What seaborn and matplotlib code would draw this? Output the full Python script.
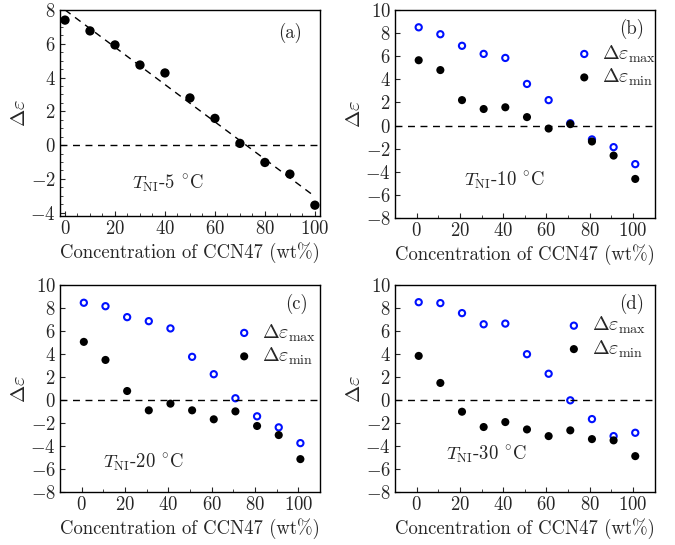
import numpy as np
import pandas as pd
import matplotlib
matplotlib.use("Agg")
import matplotlib.pyplot as plt
from matplotlib.ticker import MultipleLocator
import seaborn as sns

# data
conc_a = [0, 10, 20, 30, 40, 50, 60, 70, 80, 90, 100]
de_a = [7.40, 6.76, 5.93, 4.74, 4.27, 2.79, 1.58, 0.10, -1.03, -1.72, -3.56]

conc = [1, 11, 21, 31, 41, 51, 61, 71, 81, 91, 101]
max_10 = [8.5, 7.9, 6.9, 6.2, 5.85, 3.6, 2.2, 0.2, -1.2, -1.87, -3.34]
min_10 = [5.65, 4.8, 2.2, 1.43, 1.58, 0.73, -0.26, 0.12, -1.38, -2.6, -4.62]
max_20 = [8.45, 8.15, 7.2, 6.85, 6.22, 3.75, 2.24, 0.15, -1.42, -2.38, -3.75]
min_20 = [5.05, 3.48, 0.78, -0.9, -0.32, -0.9, -1.68, -0.99, -2.26, -3.05, -5.14]
max_30 = [8.5, 8.42, 7.55, 6.58, 6.64, 3.98, 2.28, -0.03, -1.66, -3.14, -2.85]
min_30 = [3.83, 1.48, -1.02, -2.35, -1.92, -2.56, -3.14, -2.64, -3.4, -3.51, -4.88]

sns.set_style("ticks")
plt.rcParams["font.family"] = ["cmr10", "DejaVu Serif"]
plt.rcParams["mathtext.fontset"] = "cm"
plt.rcParams["axes.formatter.use_mathtext"] = True
plt.rcParams["font.size"] = 13.5
plt.rcParams["xtick.direction"] = "in"
plt.rcParams["ytick.direction"] = "in"

BLUE = "#0010ff"
fig = plt.figure(figsize=(6.75, 5.45), dpi=100)
ax_a = fig.add_axes([0.0889, 0.6037, 0.385, 0.378])
ax_b = fig.add_axes([0.585, 0.600, 0.385, 0.3817])
ax_c = fig.add_axes([0.0889, 0.0972, 0.385, 0.380])
ax_d = fig.add_axes([0.585, 0.0972, 0.385, 0.380])

xlab = "Concentration of CCN47 (wt%)"
ylab = r"$\Delta\varepsilon$"

# (a)
df_a = pd.DataFrame({"c": conc_a, "de": de_a})
sns.regplot(data=df_a, x="c", y="de", ax=ax_a, scatter=False, ci=None,
            line_kws=dict(color="k", ls=(0, (5, 4)), lw=1.0))
sns.scatterplot(data=df_a, x="c", y="de", ax=ax_a, color="k", s=45,
                edgecolor="none")
ax_a.axhline(0, color="k", ls=(0, (5, 4)), lw=1.0)
ax_a.set_xlim(-2, 102)
ax_a.set_ylim(-4.2, 8)
ax_a.xaxis.set_major_locator(MultipleLocator(20))
ax_a.xaxis.set_minor_locator(MultipleLocator(5))
ax_a.yaxis.set_major_locator(MultipleLocator(2))
ax_a.yaxis.set_minor_locator(MultipleLocator(0.5))
ax_a.text(0.885, 0.89, "(a)", transform=ax_a.transAxes, ha="center", va="center")
ax_a.text(0.415, 0.16, r"$T_{\rm NI}$-5 $^{\circ}$C", transform=ax_a.transAxes,
          ha="center", va="center")
ax_a.set_xlabel(xlab)
ax_a.set_ylabel(ylab, fontsize=15)

panels = [
    (ax_b, max_10, min_10, "(b)", r"$T_{\rm NI}$-10 $^{\circ}$C", (0.42, 0.18), (0.69, 0.84)),
    (ax_c, max_20, min_20, "(c)", r"$T_{\rm NI}$-20 $^{\circ}$C", (0.32, 0.145), (0.67, 0.82)),
    (ax_d, max_30, min_30, "(d)", r"$T_{\rm NI}$-30 $^{\circ}$C", (0.354, 0.18), (0.65, 0.855)),
]
for ax, vmax, vmin, tag, label, tpos, lpos in panels:
    df = pd.DataFrame({"c": conc, "max": vmax, "min": vmin})
    ax.axhline(0, color="k", ls=(0, (5, 4)), lw=1.0)
    sns.scatterplot(data=df, x="c", y="max", ax=ax, s=20, facecolor="none",
                    edgecolor=BLUE, linewidth=1.5,
                    label=r"$\Delta\varepsilon_{\rm max}$")
    sns.scatterplot(data=df, x="c", y="min", ax=ax, s=34, color="k",
                    edgecolor="none", label=r"$\Delta\varepsilon_{\rm min}$")
    ax.set_xlim(-10, 110)
    ax.set_ylim(-8, 10)
    ax.xaxis.set_major_locator(MultipleLocator(20))
    ax.xaxis.set_minor_locator(MultipleLocator(10))
    ax.yaxis.set_major_locator(MultipleLocator(2))
    ax.text(0.91, 0.91, tag, transform=ax.transAxes, ha="center", va="center")
    ax.text(tpos[0], tpos[1], label, transform=ax.transAxes, ha="center", va="center")
    ax.legend(loc="upper left", bbox_to_anchor=lpos, frameon=False, fontsize=14.5,
              handlelength=1.0, handletextpad=0.4, borderpad=0, borderaxespad=0,
              labelspacing=0.1)
    ax.set_xlabel(xlab)
    ax.set_ylabel(ylab, fontsize=15)

for ax in [ax_a, ax_b, ax_c, ax_d]:
    for sp in ax.spines.values():
        sp.set_linewidth(1.0)
        sp.set_color("k")
    ax.tick_params(which="major", length=3.5, width=0.8, pad=3)
    ax.tick_params(which="minor", length=2, width=0.6)
    ax.yaxis.labelpad = 1
    ax.xaxis.labelpad = 3

fig.savefig("out.png", dpi=100)
